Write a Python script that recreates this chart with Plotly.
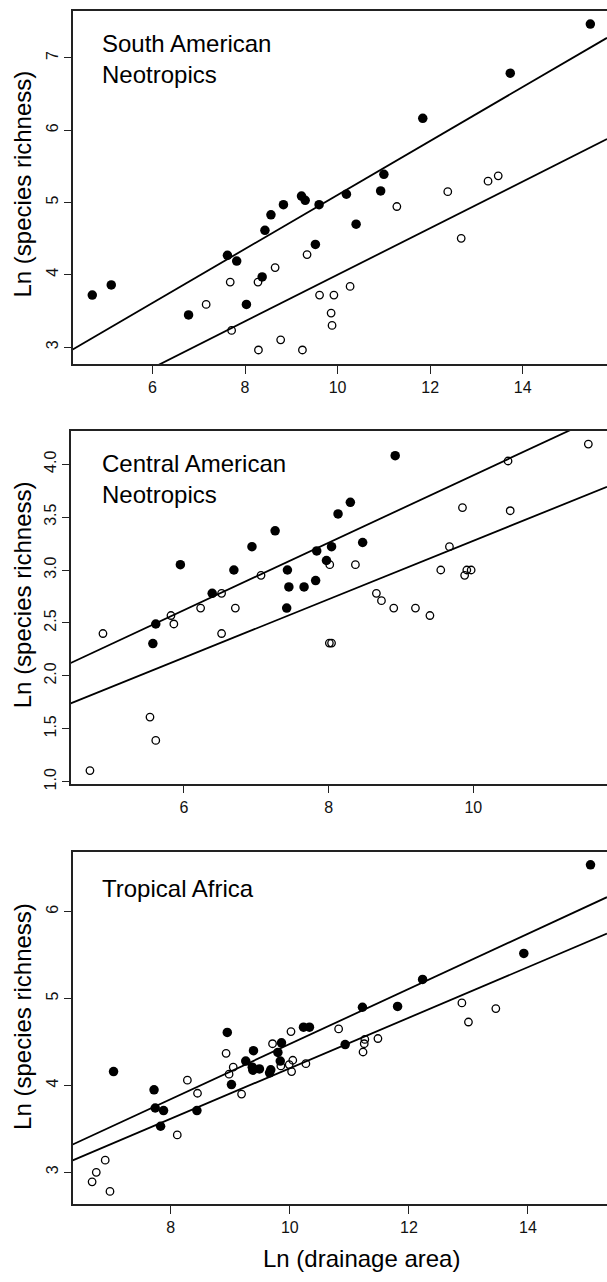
import plotly.graph_objects as go

W, H = 607, 1282
OFF = 0  # body margin removed via post_script

# ---------------- data ----------------
# South American Neotropics
sa_fill_x = [4.70, 5.11, 6.78, 7.62, 7.82, 8.03, 8.37, 8.43, 8.56, 8.83, 9.22, 9.30, 9.60, 9.52, 10.19, 10.40, 10.93, 11.00, 11.84, 13.73, 15.46]
sa_fill_y = [3.72, 3.86, 3.445, 4.27, 4.19, 3.59, 3.97, 4.615, 4.83, 4.97, 5.09, 5.03, 4.97, 4.42, 5.115, 4.70, 5.16, 5.39, 6.165, 6.79, 7.47]
sa_open_x = [7.16, 7.68, 7.71, 8.28, 8.29, 8.65, 8.77, 9.24, 9.34, 9.61, 9.92, 9.86, 9.88, 10.27, 11.28, 12.38, 12.67, 13.25, 13.47]
sa_open_y = [3.59, 3.90, 3.23, 3.90, 2.96, 4.10, 3.10, 2.96, 4.28, 3.72, 3.72, 3.47, 3.30, 3.84, 4.945, 5.15, 4.505, 5.295, 5.37]
sa_lines = [(1.370, 0.3735), (0.776, 0.3225)]   # (intercept, slope)

# Central American Neotropics
ca_fill_x = [5.57, 5.61, 5.95, 6.39, 6.69, 6.94, 7.26, 7.43, 7.45, 7.42, 7.66, 7.82, 7.835, 7.97, 8.04, 8.13, 8.30, 8.47, 8.92]
ca_fill_y = [2.305, 2.49, 3.05, 2.78, 3.00, 3.22, 3.37, 3.00, 2.84, 2.64, 2.84, 2.90, 3.18, 3.09, 3.22, 3.53, 3.64, 3.26, 4.08]
ca_open_x = [4.70, 4.88, 5.53, 5.61, 5.82, 5.86, 6.23, 6.52, 6.52, 6.71, 7.065, 8.015, 8.37, 8.01, 8.04, 8.66, 8.73, 8.90, 9.20, 9.40, 9.55, 9.67, 9.85, 9.88, 9.91, 9.97, 10.48, 10.51, 11.59]
ca_open_y = [1.105, 2.40, 1.61, 1.39, 2.57, 2.49, 2.64, 2.78, 2.40, 2.64, 2.95, 3.05, 3.05, 2.31, 2.31, 2.78, 2.71, 2.64, 2.64, 2.57, 3.00, 3.22, 3.59, 2.95, 3.00, 3.00, 4.03, 3.56, 4.19]
ca_lines = [(0.708, 0.3187), (0.516, 0.276)]

# Tropical Africa
af_fill_x = [7.04, 7.72, 7.74, 7.88, 7.83, 8.44, 8.95, 9.02, 9.26, 9.37, 9.39, 9.38, 9.49, 9.66, 9.68, 9.80, 9.86, 9.84, 10.23, 10.33, 10.93, 11.22, 11.81, 12.23, 13.93, 15.05]
af_fill_y = [4.16, 3.95, 3.74, 3.71, 3.53, 3.71, 4.61, 4.01, 4.28, 4.21, 4.40, 4.175, 4.19, 4.145, 4.18, 4.38, 4.49, 4.28, 4.67, 4.67, 4.47, 4.90, 4.91, 5.22, 5.52, 6.54]
af_open_x = [6.68, 6.75, 6.90, 6.98, 8.11, 8.28, 8.45, 8.93, 8.98, 9.05, 9.19, 9.71, 9.85, 10.02, 9.99, 10.05, 10.03, 10.27, 10.82, 11.26, 11.25, 11.23, 11.48, 12.89, 13.00, 13.46]
af_open_y = [2.89, 3.00, 3.14, 2.78, 3.43, 4.06, 3.91, 4.37, 4.13, 4.21, 3.90, 4.48, 4.225, 4.62, 4.24, 4.29, 4.16, 4.25, 4.65, 4.53, 4.48, 4.385, 4.54, 4.95, 4.73, 4.885]
af_lines = [(1.304, 0.3173), (1.289, 0.2909)]

panel_titles = ["South American<br>Neotropics", "Central American<br>Neotropics", "Tropical Africa"]
x_ticks = [[6, 8, 10, 12, 14], [6, 8, 10], [8, 10, 12, 14]]
y_ticks = [[3, 4, 5, 6, 7], [1.0, 1.5, 2.0, 2.5, 3.0, 3.5, 4.0], [3, 4, 5, 6]]
y_ticktext = [["3", "4", "5", "6", "7"], ["1.0", "1.5", "2.0", "2.5", "3.0", "3.5", "4.0"], ["3", "4", "5", "6"]]

# ---------------- layout geometry (screen pixels) ----------------
x_ranges = [[4.277, 15.82], [4.434, 11.848], [6.354, 15.327]]
y_ranges = [[2.766, 7.651], [0.981, 4.314], [2.634, 6.687]]
left_px = [72.7, 70.7, 72.7]
top_px = [11, 433.3, 856.7]
bot_px = [366, 788, 1210.7]
title_top_px = [28, 450, 878]
ytitle_center_px = [185, 598, 1022]


def px(x):
    return (x - OFF) / W


def py(y):
    return 1 - (y - OFF) / H


panels = [
    (sa_fill_x, sa_fill_y, sa_open_x, sa_open_y, sa_lines),
    (ca_fill_x, ca_fill_y, ca_open_x, ca_open_y, ca_lines),
    (af_fill_x, af_fill_y, af_open_x, af_open_y, af_lines),
]

FONT = "Liberation Sans, Arial, Helvetica, sans-serif"
AX = "#222222"

fig = go.Figure()
annotations = []
layout_axes = {}

for i, (fx, fy, ox, oy, lines) in enumerate(panels):
    n = "" if i == 0 else str(i + 1)
    xa, ya = "x" + n, "y" + n
    x0, x1 = x_ranges[i]
    for (b0, b1) in lines:
        fig.add_trace(go.Scatter(x=[x0, x1], y=[b0 + b1 * x0, b0 + b1 * x1], mode="lines",
                                 line=dict(color="black", width=1.8), xaxis=xa, yaxis=ya,
                                 showlegend=False, hoverinfo="skip"))
    fig.add_trace(go.Scatter(x=ox, y=oy, mode="markers", xaxis=xa, yaxis=ya, showlegend=False,
                             marker=dict(symbol="circle-open", size=7.5, color="black",
                                         line=dict(width=1.3, color="black"))))
    fig.add_trace(go.Scatter(x=fx, y=fy, mode="markers", xaxis=xa, yaxis=ya, showlegend=False,
                             marker=dict(symbol="circle", size=9.5, color="black",
                                         line=dict(width=0))))

    layout_axes["xaxis" + n] = dict(
        domain=[px(left_px[i]), 1], range=x_ranges[i], anchor=ya,
        tickvals=x_ticks[i], ticktext=[str(v) for v in x_ticks[i]],
        ticks="outside", ticklen=8, tickwidth=1.3, tickcolor=AX,
        showline=True, linecolor=AX, linewidth=1.6, mirror=True,
        showgrid=False, zeroline=False,
        tickfont=dict(family=FONT, size=16, color="#111111"),
    )
    layout_axes["yaxis" + n] = dict(
        domain=[py(bot_px[i]), py(top_px[i])], range=y_ranges[i], anchor=xa,
        tickvals=y_ticks[i], ticktext=y_ticktext[i], tickangle=-90,
        ticks="outside", ticklen=7, tickwidth=1.3, tickcolor=AX,
        showline=True, linecolor=AX, linewidth=1.6,
        showgrid=False, zeroline=False,
        tickfont=dict(family=FONT, size=16, color="#111111"),
    )
    annotations.append(dict(text=panel_titles[i], xref="paper", yref="paper",
                            x=px(100), y=py(title_top_px[i]), xanchor="left", yanchor="top",
                            align="left", showarrow=False,
                            font=dict(family=FONT, size=24, color="black")))
    annotations.append(dict(text="Ln (species richness)", xref="paper", yref="paper",
                            x=px(22.5), y=py(ytitle_center_px[i]), xanchor="center", yanchor="middle",
                            textangle=-90, showarrow=False,
                            font=dict(family=FONT, size=24, color="black")))

annotations.append(dict(text="Ln (drainage area)", xref="paper", yref="paper",
                        x=px(361.5), y=py(1265), xanchor="center", yanchor="middle",
                        showarrow=False, font=dict(family=FONT, size=24, color="black")))

fig.update_layout(
    width=W, height=H,
    margin=dict(l=0, r=0, t=0, b=0),
    paper_bgcolor="white", plot_bgcolor="white",
    annotations=annotations,
    **layout_axes,
)

fig.write_html("out.html", config={"displayModeBar": False},
               post_script="document.body.style.margin='0';document.body.style.overflow='hidden';")
